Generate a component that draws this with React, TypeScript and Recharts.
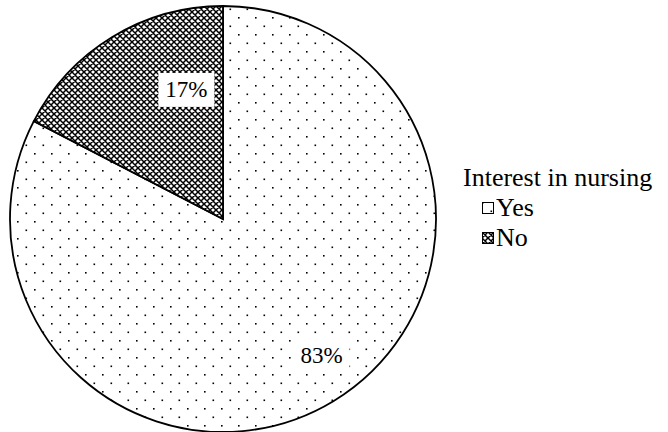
import React from "react";
import { PieChart, Pie, Cell, Legend } from "recharts";

const categories = ["Yes", "No"];
const shares = [82.6, 17.4];
const legendTitle = "Interest in nursing";

const data = categories.map((name, i) => ({ name, value: shares[i] }));
const patternIds = ["patDots", "patDiamond"];

// label placement: fraction of radius and angle offset (degrees) from mid angle
const labelLayout = [
  { rf: 0.79, da: 4.5 },
  { rf: 0.63, da: -15.5 },
];

const RAD = Math.PI / 180;
const FONT = "'Liberation Serif', 'Times New Roman', serif";

const renderLabel = (props: any) => {
  const { cx, cy, midAngle, outerRadius, index, value } = props;
  const lay = labelLayout[index];
  const a = (midAngle + lay.da) * RAD;
  const r = outerRadius * lay.rf;
  const x = cx + r * Math.cos(a);
  const y = cy - r * Math.sin(a);
  const txt = `${Math.round(value)}%`;
  const w = 56;
  const h = 34;
  return (
    <g>
      <rect x={x - w / 2} y={y - h / 2} width={w} height={h} fill="#fff" />
      <text x={x} y={y} textAnchor="middle" dominantBaseline="central" fontFamily={FONT} fontSize={23} fill="#000">
        {txt}
      </text>
    </g>
  );
};

const LegendContent = () => (
  <div style={{ fontFamily: FONT, fontSize: 26, color: "#000", lineHeight: "30px", whiteSpace: "nowrap" }}>
    <div>{legendTitle}</div>
    {categories.map((c, i) => (
      <div key={c} style={{ display: "flex", alignItems: "center", paddingLeft: 19 }}>
        <svg width={13} height={13} style={{ marginRight: 1 }}>
          <rect x={0.5} y={0.5} width={11} height={11} fill={`url(#${patternIds[i]})`} stroke="#000" strokeWidth={1} />
        </svg>
        <span>{c}</span>
      </div>
    ))}
  </div>
);

export default function App() {
  return (
    <div style={{ position: "absolute", left: 0, top: 0, width: 668, height: 432, background: "#fff", overflow: "hidden" }}>
      <PieChart width={668} height={432} margin={{ top: 0, right: 0, bottom: 0, left: 0 }}>
        <defs>
          <pattern id="patDots" patternUnits="userSpaceOnUse" width={17} height={17}>
            <rect width={17} height={17} fill="#fff" />
            <rect x={0} y={0} width={1.6} height={1.6} fill="#000" />
            <rect x={8.5} y={8.5} width={1.6} height={1.6} fill="#000" />
          </pattern>
          <pattern id="patDiamond" patternUnits="userSpaceOnUse" width={6} height={6}>
            <rect width={6} height={6} fill="#fff" />
            <path d="M0,0 L6,6 M6,0 L0,6 M-1,5 L1,7 M5,-1 L7,1 M-1,1 L1,-1 M5,7 L7,5" stroke="#000" strokeWidth={1.5} />
          </pattern>
        </defs>
        <Pie
          data={data}
          dataKey="value"
          nameKey="name"
          cx={223}
          cy={219}
          outerRadius={213}
          startAngle={90}
          endAngle={-270}
          stroke="#000"
          strokeWidth={1.8}
          label={renderLabel}
          labelLine={false}
          isAnimationActive={false}
        >
          {data.map((d, i) => (
            <Cell key={d.name} fill={`url(#${patternIds[i]})`} />
          ))}
        </Pie>
        <Legend
          content={<LegendContent />}
          wrapperStyle={{ position: "absolute", left: 463, top: 163, width: 205 }}
        />
      </PieChart>
    </div>
  );
}
